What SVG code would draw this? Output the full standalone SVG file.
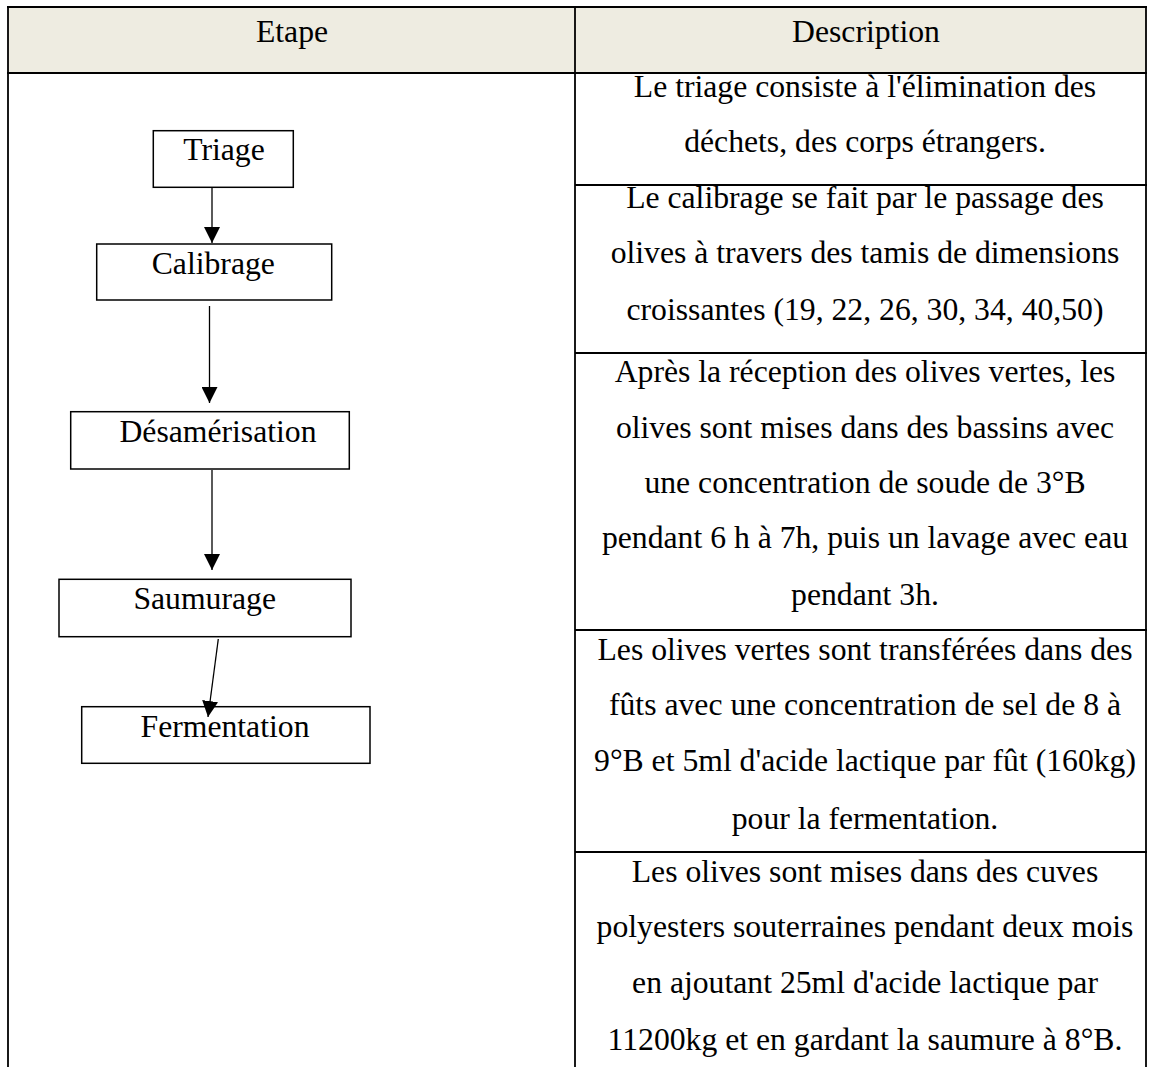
<svg xmlns="http://www.w3.org/2000/svg" width="1150" height="1067" viewBox="0 0 1150 1067">
<style>
.t{font-family:"Liberation Serif","Times New Roman",serif;font-size:31.7px;fill:#000;text-anchor:middle}
.grid{stroke:#000;stroke-width:1.8;fill:none}
.box{fill:#fff;stroke:#000;stroke-width:1.5}
.con{stroke:#000;stroke-width:1.3;fill:none}
</style>
<defs>
<marker id="ah" viewBox="0 0 16 16" refX="16" refY="8" markerWidth="16" markerHeight="16" markerUnits="userSpaceOnUse" orient="auto">
<path d="M0,0 L16,8 L0,16 z" fill="#000"/>
</marker>
</defs>
<rect width="1150" height="1067" fill="#fff"/>
<g id="table">
<rect x="8" y="7" width="1138" height="66" fill="#EEECE1"/>
<line class="grid" x1="7" y1="7" x2="1147" y2="7"/>
<line class="grid" x1="7" y1="73" x2="1147" y2="73"/>
<line class="grid" x1="8" y1="7" x2="8" y2="1067"/>
<line class="grid" x1="575" y1="7" x2="575" y2="1067"/>
<line class="grid" x1="1146" y1="7" x2="1146" y2="1067"/>
<line class="grid" x1="575" y1="185" x2="1147" y2="185"/>
<line class="grid" x1="575" y1="353" x2="1147" y2="353"/>
<line class="grid" x1="575" y1="630" x2="1147" y2="630"/>
<line class="grid" x1="575" y1="852" x2="1147" y2="852"/>
<text class="t" x="292" y="42">Etape</text>
<text class="t" x="866" y="42">Description</text>
</g>
<g id="desc">
<text class="t" x="865" y="97">Le triage consiste à l'élimination des</text>
<text class="t" x="865" y="152">déchets, des corps étrangers.</text>
<text class="t" x="865" y="208">Le calibrage se fait par le passage des</text>
<text class="t" x="865" y="263">olives à travers des tamis de dimensions</text>
<text class="t" x="865" y="320">croissantes (19, 22, 26, 30, 34, 40,50)</text>
<text class="t" x="865" y="382">Après la réception des olives vertes, les</text>
<text class="t" x="865" y="438">olives sont mises dans des bassins avec</text>
<text class="t" x="865" y="493">une concentration de soude de 3°B</text>
<text class="t" x="865" y="548">pendant 6 h à 7h, puis un lavage avec eau</text>
<text class="t" x="865" y="605">pendant 3h.</text>
<text class="t" x="865" y="660">Les olives vertes sont transférées dans des</text>
<text class="t" x="865" y="715">fûts avec une concentration de sel de 8 à</text>
<text class="t" x="865" y="771">9°B et 5ml d'acide lactique par fût (160kg)</text>
<text class="t" x="865" y="829">pour la fermentation.</text>
<text class="t" x="865" y="882">Les olives sont mises dans des cuves</text>
<text class="t" x="865" y="937">polyesters souterraines pendant deux mois</text>
<text class="t" x="865" y="993">en ajoutant 25ml d'acide lactique par</text>
<text class="t" x="865" y="1050">11200kg et en gardant la saumure à 8°B.</text>
</g>
<g id="node-triage">
<rect class="box" x="153.3" y="130.7" width="140" height="56.6"/>
<text class="t" x="224" y="160">Triage</text>
</g>
<g id="node-calibrage">
<rect class="box" x="96.7" y="244" width="235" height="56"/>
<text class="t" x="213.3" y="274">Calibrage</text>
</g>
<g id="node-desamerisation">
<rect class="box" x="70.7" y="411.7" width="278.6" height="57.3"/>
<text class="t" x="218" y="441.7">Désamérisation</text>
</g>
<g id="node-saumurage">
<rect class="box" x="59" y="579.3" width="292" height="57.4"/>
<text class="t" x="204.7" y="609">Saumurage</text>
</g>
<g id="node-fermentation">
<rect class="box" x="81.7" y="706.7" width="288.3" height="56.6"/>
<text class="t" x="225" y="736.7">Fermentation</text>
</g>
<g id="connectors">
<line class="con" x1="212" y1="187.3" x2="212" y2="243" marker-end="url(#ah)"/>
<line class="con" x1="209.5" y1="306" x2="209.5" y2="403" marker-end="url(#ah)"/>
<line class="con" x1="212" y1="470" x2="212" y2="570" marker-end="url(#ah)"/>
<line class="con" x1="218.3" y1="639" x2="208" y2="717" marker-end="url(#ah)"/>
</g>
</svg>
